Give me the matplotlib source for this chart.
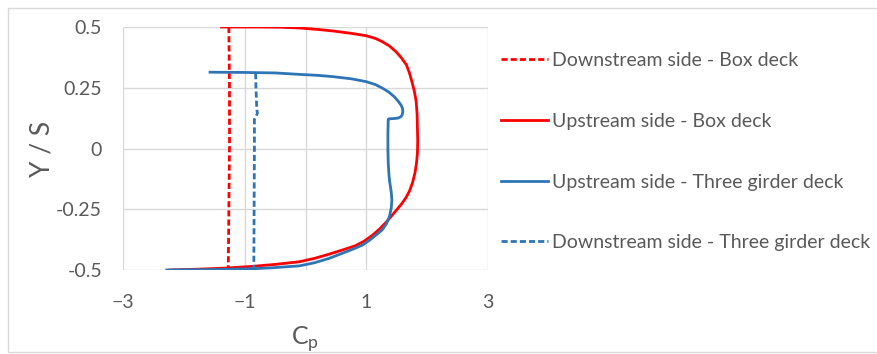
import matplotlib
matplotlib.use('Agg')
import matplotlib.pyplot as plt
from matplotlib.patches import Rectangle

plt.rcParams['font.family'] = ['Lato', 'DejaVu Sans']

# Downstream side - Box deck (red dashed)
down_box_cp = [-1.26, -1.25, -1.25, -1.25, -1.26, -1.27]
down_box_y = [0.5, 0.25, 0.1, 0.0, -0.25, -0.5]

# Upstream side - Box deck (red solid)
up_box_cp = [-1.38, -0.8, -0.4, -0.1, 0.2, 0.44, 0.75, 1.0, 1.15, 1.26, 1.38, 1.49,
             1.58, 1.66, 1.71, 1.75, 1.79, 1.82, 1.835, 1.84, 1.845, 1.84, 1.825,
             1.80, 1.76, 1.71, 1.65, 1.58, 1.50, 1.41, 1.32, 1.22, 1.10, 0.96, 0.82,
             0.69, 0.40, 0.15, -0.1, -0.5, -0.87, -1.3, -1.8, -2.23]
up_box_y = [0.5, 0.5, 0.499, 0.496, 0.49, 0.484, 0.474, 0.464, 0.453, 0.44, 0.422,
            0.398, 0.372, 0.344, 0.31, 0.275, 0.235, 0.193, 0.14, 0.084, 0.03, -0.02,
            -0.06, -0.10, -0.14, -0.175, -0.203, -0.228, -0.252, -0.279, -0.305,
            -0.331, -0.357, -0.382, -0.40, -0.411, -0.434, -0.452, -0.466, -0.477,
            -0.485, -0.492, -0.497, -0.5]

# Upstream side - Three girder deck (blue solid)
up_tg_cp = [-1.57, -1.0, -0.5, -0.1, 0.2, 0.44, 0.75, 1.0, 1.15, 1.26, 1.37, 1.46,
            1.52, 1.57, 1.595, 1.6, 1.59, 1.57, 1.53, 1.49, 1.37, 1.36, 1.355, 1.355,
            1.36, 1.37, 1.38, 1.41, 1.42, 1.41, 1.38, 1.33, 1.26, 1.16, 1.05, 0.94,
            0.8, 0.67, 0.39, 0.15, -0.1, -0.5, -0.87, -1.5, -2.28]
up_tg_y = [0.314, 0.313, 0.311, 0.305, 0.301, 0.296, 0.287, 0.275, 0.263, 0.249,
           0.232, 0.213, 0.196, 0.179, 0.165, 0.151, 0.139, 0.131, 0.126, 0.124,
           0.122, 0.12, 0.06, 0.0, -0.06, -0.10, -0.13, -0.18, -0.212, -0.245, -0.28,
           -0.31, -0.335, -0.356, -0.378, -0.397, -0.412, -0.425, -0.452, -0.47,
           -0.483, -0.49, -0.495, -0.498, -0.5]

# Downstream side - Three girder deck (blue dashed)
down_tg_cp = [-0.82, -0.815, -0.80, -0.79, -0.84, -0.84, -0.845, -0.85]
down_tg_y = [0.31, 0.25, 0.16, 0.145, 0.12, 0.0, -0.25, -0.5]

x_ticks = [-3, -1, 1, 3]
y_ticks = [-0.5, -0.25, 0, 0.25, 0.5]
y_tick_labels = ['-0.5', '-0.25', '0', '0.25', '0.5']

red = '#FF0000'
blue = '#2E75B6'
text_col = '#595959'
grid_col = '#D9D9D9'

fig = plt.figure(figsize=(8.77, 3.54), dpi=100)
ax = fig.add_axes([0.1403, 0.2373, 0.4161, 0.6864])

dash = (2.2, 1.1)
ax.plot(down_box_cp, down_box_y, color=red, lw=2, dashes=dash,
        label='Downstream side - Box deck')
ax.plot(up_box_cp, up_box_y, color=red, lw=2, label='Upstream side - Box deck')
ax.plot(up_tg_cp, up_tg_y, color=blue, lw=2, label='Upstream side - Three girder deck')
ax.plot(down_tg_cp, down_tg_y, color=blue, lw=2, dashes=dash,
        label='Downstream side - Three girder deck')

ax.set_xlim(-3, 3)
ax.set_ylim(-0.5, 0.5)
ax.set_xticks(x_ticks)
ax.set_yticks(y_ticks)
ax.set_yticklabels(y_tick_labels)
ax.grid(True, color=grid_col, lw=1)
ax.set_axisbelow(True)
ax.axvline(0, color=grid_col, lw=1, zorder=0)
for s in ax.spines.values():
    s.set_visible(False)
ax.tick_params(length=0, labelsize=14, colors=text_col)
ax.tick_params(axis='y', pad=15)
ax.tick_params(axis='x', pad=17)

ax.set_ylabel('Y / S', fontsize=19, color=text_col, labelpad=1)
ax.set_xlabel('C$_\\mathregular{p}$', fontsize=18, color=text_col, labelpad=10)

leg = fig.legend(loc='upper left', bbox_to_anchor=(0.562, 0.875), frameon=False,
                 fontsize=14, handlelength=2.42, handletextpad=0.22,
                 labelspacing=2.25, borderaxespad=0)
for t in leg.get_texts():
    t.set_color(text_col)

fig.patches.append(Rectangle((8 / 877, 2 / 354), 1.0, 1 - 10 / 354,
                             transform=fig.transFigure, fill=False,
                             edgecolor='#D9D9D9', lw=1))

fig.savefig('out.png', dpi=100)
